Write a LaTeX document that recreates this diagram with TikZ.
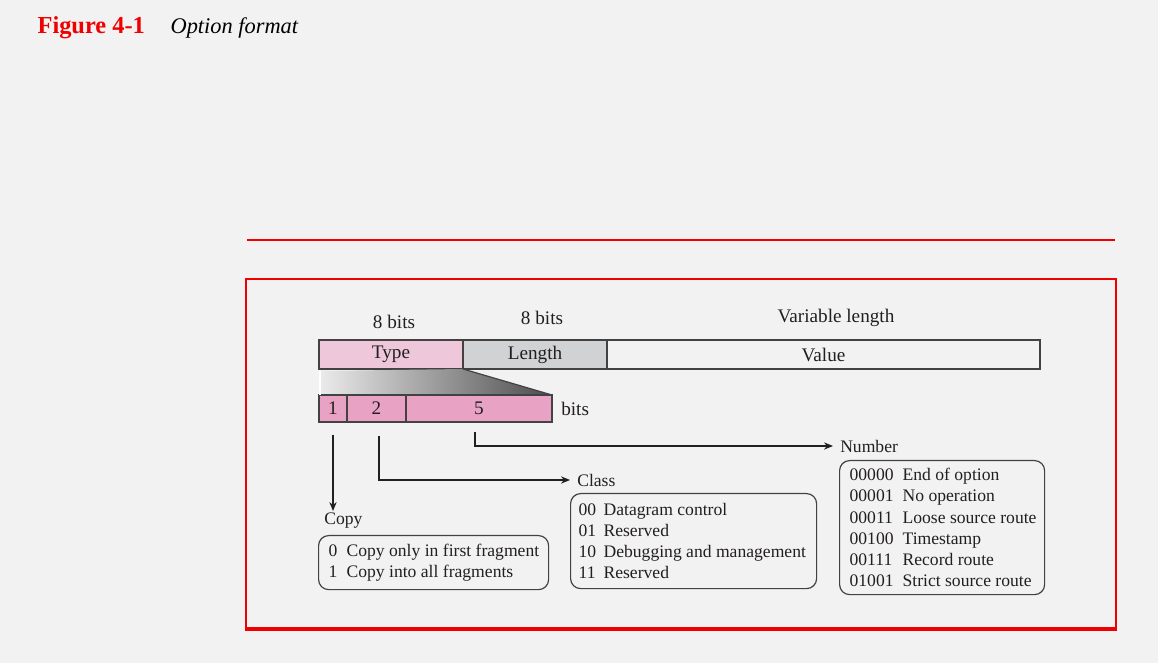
\documentclass[tikz,border=0pt]{standalone}
\usepackage{fontspec}
\setmainfont{Liberation Serif}
\usetikzlibrary{arrows.meta,positioning}

\definecolor{pagebg}{HTML}{F2F2F2}
\definecolor{figred}{HTML}{F00000}
\definecolor{typepink}{HTML}{EEC8DA}
\definecolor{bitpink}{HTML}{E8A2C4}
\definecolor{lengray}{HTML}{D1D2D4}
\definecolor{inkgray}{HTML}{231F20}

% one row of a value table: code column, then meaning
\newcommand{\optline}[4]{\makebox[#1][l]{\makebox[#2][l]{#3}#4}}

\begin{document}
\begin{tikzpicture}[x=0.5pt, y=-0.5pt, line width=0.6pt,
    every node/.style={font=\fontsize{9.6}{11}\selectfont, text=inkgray},
    field/.style={draw=inkgray!85, minimum height=14.5pt, inner sep=0pt, outer sep=0pt},
    bitfield/.style={draw=inkgray!85, fill=bitpink, minimum height=13.5pt, inner sep=0pt, outer sep=0pt},
    optbox/.style={draw=inkgray!85, rounded corners=5pt, anchor=north west, align=left,
      inner ysep=0pt, font=\fontsize{8.8}{10.6}\selectfont},
    lbl/.style={font=\fontsize{8.8}{10.6}\selectfont},
    arr/.style={draw=inkgray, -{Stealth[length=4.5pt,width=3.6pt]}}]
  \fill[pagebg] (0,0) rectangle (1158,663);
  \useasboundingbox (0,0) rectangle (1158,663);

  % title and frame
  \node[anchor=base west, inner sep=0pt, font=\fontsize{12.2}{14}\selectfont\bfseries, text=figred] (fignum) at (37,34) {Figure 4-1};
  \node[anchor=base west, inner sep=0pt, font=\fontsize{11.2}{13}\selectfont\itshape, text=black] (figtitle) at (170,34) {Option format};
  \draw[figred, line width=1pt] (247,240) -- (1115,240);
  \draw[figred, line width=1pt] (246,279) rectangle (1116,630);
  \draw[figred, line width=2pt] (245,629) -- (1117,629);

  % option fields
  \node[field, fill=typepink, minimum width=72pt] (type) at (391,354.5) {Type};
  \node[field, fill=lengray, minimum width=72pt, right=0pt of type] (len) {Length};
  \node[field, fill=pagebg, minimum width=216.5pt, right=0pt of len] (value) {Value};
  \node[anchor=base] (typebits) at (394,329) {8 bits};
  \node[anchor=base] (lenbits) at (542,325) {8 bits};
  \node[anchor=base] (varlen) at (836,323) {Variable length};

  % zoom into the type field
  \shade[left color=white!92!black, right color=black!70] (320,371) -- (463,369) -- (552,395) -- (320,395) -- cycle;
  \node[bitfield, minimum width=14pt] (b1) at (333,408.5) {1};
  \node[bitfield, minimum width=29.5pt, right=0pt of b1] (b2) {2};
  \node[bitfield, minimum width=73pt, right=0pt of b2] (b5) {5};
  \node[right=1pt of b5] (bitslbl) {bits};
  \draw[inkgray!85] (type.south east) -- (b5.north east);
  \draw[white] (320,371) -- (320,395);

  % sub-field labels
  \node[lbl, anchor=base west] (copylbl) at (317,524) {Copy};
  \node[lbl, anchor=west] (classlbl) at (570,480) {Class};
  \node[lbl, anchor=west] (numlbl) at (833,446) {Number};
  \draw[arr] ([yshift=-6.5pt]b1.south) -- ([yshift=-3pt]b1.south |- copylbl.north);
  \draw[arr] ([xshift=1.25pt,yshift=-7pt]b2.south) |- (classlbl.west);
  \draw[arr] ([xshift=-2pt,yshift=-5pt]b5.south) |- (numlbl.west);

  % value tables
  \node[optbox, minimum width=115pt, minimum height=27pt, inner xsep=5pt] (copybox) at (318,535)
    {\optline{105pt}{9pt}{0}{Copy only in first fragment}\\
     \optline{105pt}{9pt}{1}{Copy into all fragments}};
  \node[optbox, minimum width=123pt, minimum height=47.5pt, inner xsep=4pt] (classbox) at (570,493)
    {\optline{115pt}{12.5pt}{00}{Datagram control}\\
     \optline{115pt}{12.5pt}{01}{Reserved}\\
     \optline{115pt}{12.5pt}{10}{Debugging and management}\\
     \optline{115pt}{12.5pt}{11}{Reserved}};
  \node[optbox, minimum width=102.5pt, minimum height=67pt, inner xsep=5pt] (numbox) at (839,460)
    {\optline{92.5pt}{26.5pt}{00000}{End of option}\\
     \optline{92.5pt}{26.5pt}{00001}{No operation}\\
     \optline{92.5pt}{26.5pt}{00011}{Loose source route}\\
     \optline{92.5pt}{26.5pt}{00100}{Timestamp}\\
     \optline{92.5pt}{26.5pt}{00111}{Record route}\\
     \optline{92.5pt}{26.5pt}{01001}{Strict source route}};
\end{tikzpicture}
\end{document}
